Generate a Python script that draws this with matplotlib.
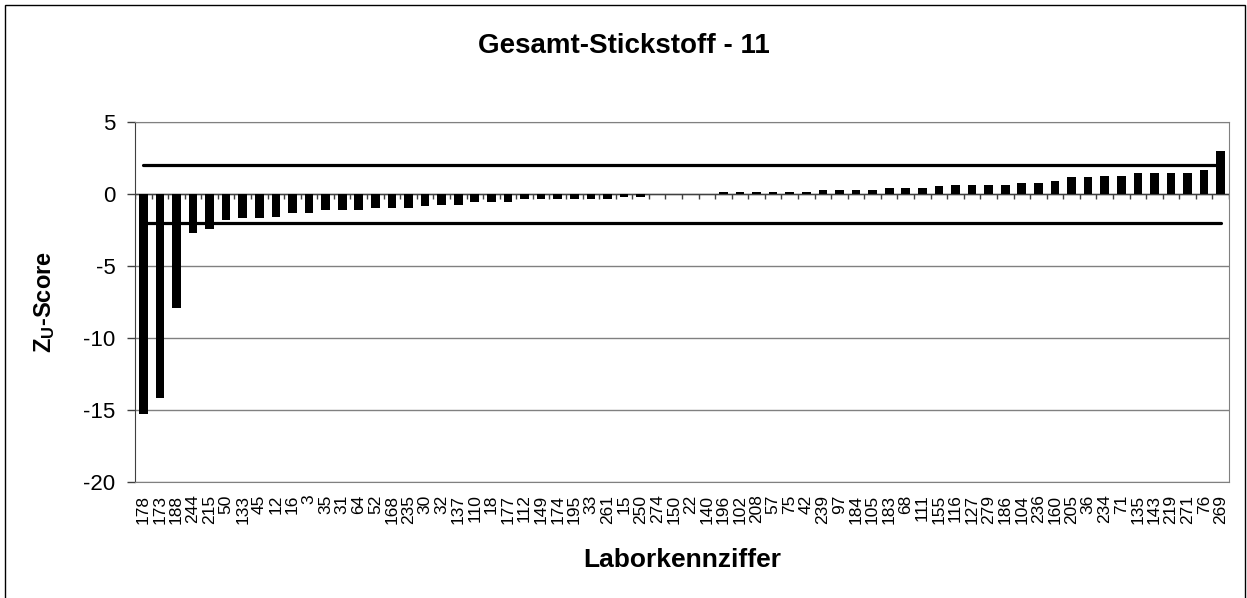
import matplotlib
matplotlib.use("Agg")
import matplotlib.pyplot as plt
from matplotlib.patches import Rectangle
import numpy as np

plt.rcParams['font.family'] = ['Liberation Sans', 'DejaVu Sans']
plt.rcParams['mathtext.fontset'] = 'custom'
plt.rcParams['mathtext.rm'] = 'Liberation Sans:bold'
plt.rcParams['mathtext.bf'] = 'Liberation Sans:bold'

labs = ["178", "173", "188", "244", "215", "50", "133", "45", "12", "16",
        "3", "35", "31", "64", "52", "168", "235", "30", "32", "137",
        "110", "18", "177", "112", "149", "174", "195", "33", "261", "15",
        "250", "274", "150", "22", "140", "196", "102", "208", "57", "75",
        "42", "239", "97", "184", "105", "183", "68", "111", "155", "116",
        "127", "279", "186", "104", "236", "160", "205", "36", "234", "71",
        "135", "143", "219", "271", "76", "269"]

zu_score = [-15.3, -14.2, -7.9, -2.7, -2.4, -1.8, -1.7, -1.7, -1.6, -1.3,
            -1.3, -1.1, -1.1, -1.1, -0.97, -0.97, -0.97, -0.86, -0.74, -0.74,
            -0.58, -0.58, -0.58, -0.35, -0.35, -0.35, -0.35, -0.35, -0.35, -0.19,
            -0.19, 0.0, 0.0, 0.0, 0.0, 0.16, 0.16, 0.16, 0.16, 0.16,
            0.16, 0.28, 0.28, 0.28, 0.28, 0.42, 0.42, 0.42, 0.53, 0.65,
            0.65, 0.65, 0.65, 0.79, 0.79, 0.9, 1.16, 1.16, 1.27, 1.27,
            1.44, 1.44, 1.44, 1.44, 1.67, 3.0]

upper_limit = 2
lower_limit = -2

W, H = 1247, 598
fig = plt.figure(figsize=(W / 100, H / 100), dpi=100)
ax_l, ax_r, ax_t, ax_b = 135, 1229, 122, 482
ax = fig.add_axes([ax_l / W, 1 - ax_b / H, (ax_r - ax_l) / W, (ax_b - ax_t) / H])

x = np.arange(len(labs))
ax.bar(x, zu_score, width=0.52, color='black', zorder=3)

ax.plot(x, [upper_limit] * len(x), color='black', lw=2.3, zorder=4,
        solid_capstyle='round')
ax.plot(x, [lower_limit] * len(x), color='black', lw=2.3, zorder=4,
        solid_capstyle='round')

ax.set_xlim(-0.5, len(labs) - 0.5)
ax.set_ylim(-20, 5)
ax.set_yticks([5, 0, -5, -10, -15, -20])
ax.set_yticklabels(['5', '0', '-5', '-10', '-15', '-20'])
ax.yaxis.grid(True, color='#808080', lw=1)
ax.set_axisbelow(True)

# category axis drawn at zero with ticks between categories
ax.axhline(0, color='#404040', lw=1, zorder=2)
bounds = np.arange(len(labs) + 1) - 0.5
ax.vlines(bounds, -0.38, 0, color='#404040', lw=1, zorder=2)

ax.set_xticks(x)
ax.set_xticklabels(labs, rotation=90, fontsize=12.5)
ax.tick_params(axis='x', length=0, pad=9)
ax.tick_params(axis='y', length=6, width=1, color='#404040', labelsize=16, pad=8)

for s in ['top', 'right', 'bottom']:
    ax.spines[s].set_color('#808080')
ax.spines['left'].set_color('#404040')

fig.text(0.5, 1 - 46 / H, 'Gesamt-Stickstoff - 11', fontsize=20, fontweight='bold',
         ha='center', va='center')

ax.set_xlabel('Laborkennziffer', fontsize=19, fontweight='bold', va='baseline')
ax.xaxis.set_label_coords(0.5, -(567 - ax_b) / (ax_b - ax_t))
ax.set_ylabel(r'$\mathbf{Z_{U}}$-Score', fontsize=17, fontweight='bold', va='center')
ax.yaxis.set_label_coords(-(ax_l - 45) / (ax_r - ax_l), 0.5)

fig.patches.append(Rectangle((4.5 / W, -0.1), (1244.5 - 4.5) / W, 1.1 - 5 / H,
                             transform=fig.transFigure, fill=False,
                             edgecolor='black', lw=1))

fig.savefig('out.png', dpi=100)
